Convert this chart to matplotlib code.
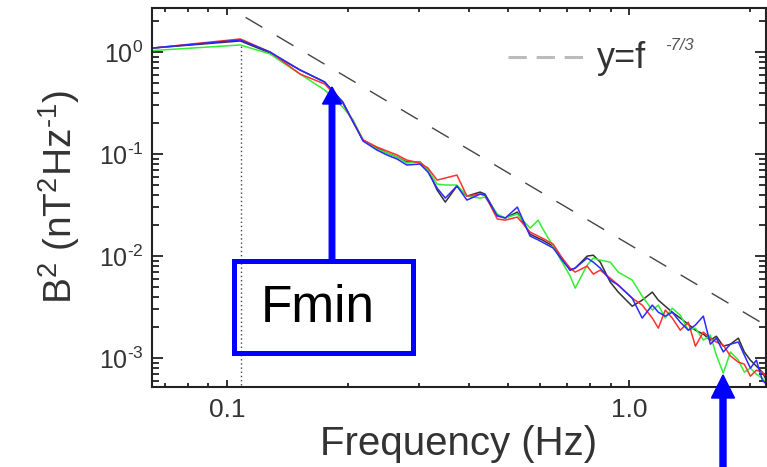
import numpy as np
import matplotlib
matplotlib.use("Agg")
import matplotlib.pyplot as plt
from matplotlib.patches import Rectangle, FancyArrow
from matplotlib.ticker import LogLocator, FixedLocator, FixedFormatter, FuncFormatter, NullFormatter

plt.rcParams["font.family"] = ["Liberation Sans", "DejaVu Sans"]
plt.rcParams["mathtext.fontset"] = "custom"
plt.rcParams["mathtext.rm"] = "Liberation Sans"
plt.rcParams["mathtext.it"] = "Liberation Sans:italic"

# ---------------------------------------------------------
# Spectra (Hz, nT^2/Hz)
# ---------------------------------------------------------
freq = [0.065, 0.108, 0.128, 0.152, 0.175, 0.194, 0.206, 0.218, 0.236, 0.250,
        0.265, 0.280, 0.302, 0.316, 0.333, 0.349, 0.373, 0.395, 0.426, 0.438,
        0.470, 0.492, 0.527, 0.567, 0.594, 0.608, 0.647, 0.681, 0.713, 0.734,
        0.786, 0.814, 0.847, 0.897, 0.939, 1.017, 1.077, 1.141, 1.181, 1.229,
        1.279, 1.339, 1.402, 1.460, 1.528, 1.591, 1.646, 1.713, 1.784, 1.867,
        1.932, 2.000, 2.070, 2.142, 2.204]

psd_black = [1.09, 1.282, 0.978, 0.666, 0.508, 0.3235, 0.206, 0.1372, 0.1145, 0.1023,
             0.0935, 0.0835, 0.0835, 0.0697, 0.0444, 0.0338, 0.0486, 0.0387, 0.0424, 0.0405,
             0.0252, 0.0236, 0.0270, 0.0164, 0.0150, 0.0144, 0.0125, 0.00956, 0.00729, 0.00763,
             0.0100, 0.0102, 0.00873, 0.00556, 0.00444, 0.00323, 0.00370, 0.00444, 0.00370, 0.00323,
             0.00282, 0.00247, 0.00215, 0.00188, 0.00172, 0.00150, 0.00164, 0.00131, 0.00137, 0.00157,
             0.00115, 0.000956, 0.000835, 0.000729, 0.000582]

psd_red = [1.09, 1.341, 1.0, 0.608, 0.486, 0.316, 0.206, 0.1372, 0.1171, 0.1070,
           0.0978, 0.0873, 0.0816, 0.0729, 0.0556, 0.0582, 0.0622, 0.0387, 0.0405, 0.0396,
           0.0231, 0.0225, 0.0241, 0.0172, 0.0157, 0.0150, 0.0131, 0.00956, 0.00763, 0.00697,
           0.00798, 0.00666, 0.00729, 0.00608, 0.00520, 0.00387, 0.00331, 0.00247, 0.00197, 0.00296,
           0.00247, 0.00188, 0.00225, 0.00131, 0.00180, 0.00157, 0.00144, 0.00134, 0.00105, 0.000914,
           0.000873, 0.000666, 0.000763, 0.000729, 0.000637]

psd_blue = [1.09, 1.311, 1.0, 0.666, 0.508, 0.3235, 0.206, 0.134, 0.1094, 0.0978,
            0.0893, 0.0780, 0.0798, 0.0666, 0.0464, 0.0370, 0.0486, 0.0354, 0.0405, 0.0396,
            0.0247, 0.0236, 0.0302, 0.0157, 0.0144, 0.0137, 0.0120, 0.00914, 0.00729, 0.00763,
            0.00956, 0.00873, 0.00763, 0.00582, 0.00520, 0.00387, 0.00247, 0.00331, 0.00282, 0.00258,
            0.00282, 0.00225, 0.00188, 0.00211, 0.00258, 0.00137, 0.00157, 0.00115, 0.00137, 0.00144,
            0.00107, 0.000798, 0.000956, 0.000608, 0.000544]

psd_green = [1.03, 1.171, 0.956, 0.608, 0.424, 0.289, 0.2154, 0.1372, 0.1119, 0.1023,
             0.0935, 0.0816, 0.0835, 0.0697, 0.0508, 0.0497, 0.0497, 0.0387, 0.0370, 0.0379,
             0.0258, 0.0236, 0.0258, 0.0188, 0.0225, 0.0188, 0.0125, 0.00873, 0.00637, 0.00486,
             0.00816, 0.00956, 0.00914, 0.00873, 0.00697, 0.00582, 0.00405, 0.00296, 0.00331, 0.00247,
             0.00309, 0.00264, 0.00188, 0.00197, 0.00150, 0.00168, 0.00107, 0.000713, 0.00115, 0.000956,
             0.000729, 0.000798, 0.000697, 0.000637, 0.000556]

f_break = 0.1087          # dotted vertical line
ref_amplitude = 0.013     # y = A * f^(-7/3)
ref_exponent = -7.0 / 3.0

x_ticks = [0.1, 1.0]
x_tick_labels = ["0.1", "1.0"]


def decade_label(val, pos):
    e = int(round(np.log10(val)))
    if e < 0:
        return r"$10^{\text{-}%d}$" % (-e)
    return r"$10^{%d}$" % e


# ---------------------------------------------------------
# Figure
# ---------------------------------------------------------
fig = plt.figure(figsize=(7.67, 4.67), dpi=100)
ax = fig.add_axes([0.198, 0.171, 0.801, 0.812])

ax.plot(freq, psd_black, color="#333333", lw=1.1)
ax.plot(freq, psd_green, color="#33ee33", lw=1.1)
ax.plot(freq, psd_red, color="#ff3030", lw=1.1)
ax.plot(freq, psd_blue, color="#2a2aff", lw=1.1)

f_ref = np.array([0.065, 2.3])
ax.plot(f_ref, ref_amplitude * f_ref ** ref_exponent, color="#444444", lw=1.0,
        dashes=(14, 12))

ax.plot([f_break, f_break], [1e-4, 1.2], color="#444444", lw=1.0, ls=(0, (1, 2)))

ax.set_xscale("log")
ax.set_yscale("log")
ax.set_xlim(0.0651, 2.19)
ax.set_ylim(5.2e-4, 2.7)

ax.xaxis.set_major_locator(FixedLocator(x_ticks))
ax.xaxis.set_major_formatter(FixedFormatter(x_tick_labels))
ax.xaxis.set_minor_locator(LogLocator(base=10, subs=np.arange(2, 10)))
ax.xaxis.set_minor_formatter(NullFormatter())
ax.yaxis.set_major_locator(LogLocator(base=10, numticks=10))
ax.yaxis.set_major_formatter(FuncFormatter(decade_label))
ax.yaxis.set_minor_locator(LogLocator(base=10, subs=np.arange(2, 10), numticks=10))
ax.yaxis.set_minor_formatter(NullFormatter())

ax.tick_params(axis="both", which="both", direction="in", top=True, right=True,
               colors="#222222", labelcolor="#333333", width=1.3)
ax.tick_params(axis="x", which="major", length=5, labelsize=19, pad=8)
ax.tick_params(axis="x", which="minor", length=3)
ax.tick_params(axis="y", which="major", length=8, labelsize=18, pad=6)
ax.tick_params(axis="y", which="minor", length=5)
for s in ax.spines.values():
    s.set_linewidth(1.5)
    s.set_color("#222222")

ax.set_xlabel("Frequency (Hz)", fontsize=29, color="#333333", labelpad=2)
ax.set_ylabel(r"B$^2$ (nT$^2$Hz$^{\text{-}1}$)", fontsize=28, color="#333333", labelpad=12)

# legend drawn by hand
ax.plot([0.580, 0.713], [0.871, 0.871], transform=ax.transAxes, color="#bbbbbb",
        lw=2.2, dashes=(6, 3.2))
ax.text(0.725, 0.842, "y=f", transform=ax.transAxes, fontsize=26, color="#333333",
        ha="left", va="baseline")
ax.text(0.836, 0.889, "-7/3", transform=ax.transAxes, fontsize=12, color="#555555",
        ha="left", va="baseline", style="italic")

# ---------------------------------------------------------
# Annotations (figure inches)
# ---------------------------------------------------------
tr = fig.dpi_scale_trans
fig.patches.append(Rectangle((2.34, 1.14), 1.79, 0.92, transform=tr, fill=False,
                             edgecolor="#0000ff", lw=3.6, zorder=5))
fig.text(3.18, 1.58, "Fmin", transform=tr, fontsize=37, color="black",
         ha="center", va="center")
fig.patches.append(FancyArrow(3.32, 2.06, 0, 1.74, width=0.055, head_width=0.19,
                              head_length=0.17, length_includes_head=True,
                              color="#0000ff", transform=tr, zorder=6))
fig.patches.append(FancyArrow(7.23, -0.1, 0, 1.02, width=0.06, head_width=0.23,
                              head_length=0.23, length_includes_head=True,
                              color="#0000ff", transform=tr, zorder=6))

plt.savefig("out.png", dpi=100)
plt.close()
